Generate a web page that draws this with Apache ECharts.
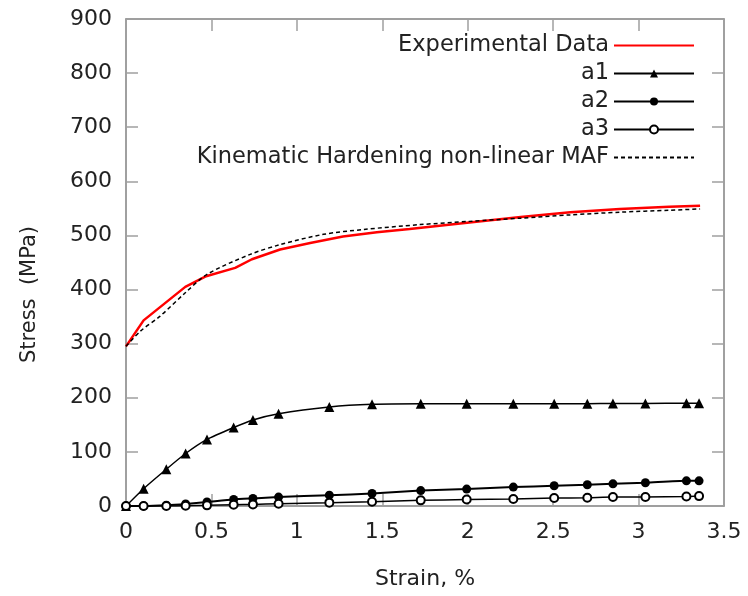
<!DOCTYPE html>
<html>
<head>
<meta charset="utf-8">
<script src="https://cdn.jsdelivr.net/npm/echarts@6/dist/echarts.min.js"></script>
<style>html,body{margin:0;padding:0;background:#fff;}#c{width:748px;height:596px;}</style>
</head>
<body>
<div id="c"></div>
<script>
// ---- data ----
var xTicks = [0, 0.5, 1, 1.5, 2, 2.5, 3, 3.5];
var yTicks = [0, 100, 200, 300, 400, 500, 600, 700, 800, 900];

var strainExp = [0, 0.103, 0.347, 0.464, 0.639, 0.737, 0.902, 1.078, 1.27, 1.468, 1.66, 2.01, 2.31, 2.60, 2.89, 3.18, 3.36];
var stressExp = [295, 343, 405, 424, 440, 456, 474, 486, 498, 506, 512, 524, 534, 543, 549, 553, 555];

var strainKH = [0, 0.084, 0.2, 0.347, 0.474, 0.727, 0.902, 1.156, 1.39, 1.72, 2.01, 2.31, 2.60, 2.89, 3.18, 3.36];
var stressKH = [295, 323, 351, 394, 428, 465, 483, 502, 511, 520, 526, 532, 538, 543, 546.5, 549];

var strainA = [0, 0.103, 0.236, 0.349, 0.474, 0.63, 0.743, 0.893, 1.19, 1.44, 1.725, 1.994, 2.267, 2.506, 2.70, 2.85, 3.04, 3.28, 3.354];
var a1 = [0, 32, 68, 97, 123, 145, 159, 170.5, 183, 188, 189, 189, 189, 189, 189, 189.5, 189.5, 190, 190];
var a2 = [0, 0, 1.3, 3.7, 7.3, 12, 14, 16.5, 20, 23, 28.5, 31.2, 35, 37.4, 39.3, 41, 43, 46.5, 46.5];
var a3 = [0, 0, 0, 0.5, 1.2, 2.4, 3, 4.3, 6.2, 8, 10.4, 12, 13, 14.7, 15.3, 16.5, 16.5, 17.5, 18.3];

var names = ['Experimental Data', 'a1', 'a2', 'a3', 'Kinematic Hardening non-linear MAF'];

function pairs(xs, ys) { return xs.map(function (x, i) { return [x, ys[i]]; }); }

var FONT = 'DejaVu Sans';
var axisGray = '#808080';
var tickGray = '#a0a0a0';
var hidden = { color: 'rgba(0,0,0,0)', borderColor: 'rgba(0,0,0,0)', borderWidth: 0, opacity: 0 };

function xAx(pos, show) {
  return {
    type: 'value', position: pos, min: xTicks[0], max: xTicks[xTicks.length - 1], interval: xTicks[1] - xTicks[0],
    name: show ? 'Strain, %' : '', nameLocation: 'middle', nameGap: 62,
    nameTextStyle: { fontFamily: FONT, fontSize: 22, color: '#222' },
    axisLine: { show: true, onZero: false, lineStyle: { color: axisGray, width: 1.5 } },
    axisTick: { show: true, inside: true, length: 12, lineStyle: { color: tickGray, width: 1.5 } },
    axisLabel: { show: show, margin: 15, fontFamily: FONT, fontSize: 22, color: '#222' },
    splitLine: { show: false }
  };
}
function yAx(pos, show) {
  return {
    type: 'value', position: pos, min: yTicks[0], max: yTicks[yTicks.length - 1], interval: yTicks[1] - yTicks[0],
    name: show ? 'Stress  (MPa)' : '', nameLocation: 'middle', nameGap: 86, nameRotate: 90,
    nameTextStyle: { fontFamily: FONT, fontSize: 21, color: '#222', padding: [0, 64, 0, 0] },
    axisLine: { show: true, onZero: false, lineStyle: { color: axisGray, width: 1.5 } },
    axisTick: { show: true, inside: true, length: 12, lineStyle: { color: tickGray, width: 1.5 } },
    axisLabel: { show: show, margin: 14, fontFamily: FONT, fontSize: 22, color: '#222' },
    splitLine: { show: false }
  };
}

var chart = echarts.init(document.getElementById('c'), null, { renderer: 'canvas' });
chart.setOption({
  animation: false,
  backgroundColor: '#fff',
  grid: { left: 126, right: 24, top: 19, bottom: 90, containLabel: false },
  xAxis: [xAx('bottom', true), xAx('top', false)],
  yAxis: [yAx('left', true), yAx('right', false)],
  legend: {
    orient: 'vertical', align: 'right', right: 48, top: 29,
    itemWidth: 80, itemHeight: 10, itemGap: 5,
    textStyle: { fontFamily: FONT, fontSize: 22.5, color: '#222' },
    data: [
      { name: names[0], itemStyle: hidden },
      { name: names[1] },
      { name: names[2] },
      { name: names[3] },
      { name: names[4], itemStyle: hidden }
    ]
  },
  series: [
    {
      name: names[0], type: 'line', data: pairs(strainExp, stressExp),
      showSymbol: false, symbol: 'none', color: '#ff0000',
      lineStyle: { color: '#ff0000', width: 2.5 }, z: 3
    },
    {
      name: names[1], type: 'line', data: pairs(strainA, a1), smooth: 0.2,
      symbol: 'triangle', symbolSize: 10, color: '#000',
      itemStyle: { color: '#000' }, lineStyle: { color: '#000', width: 1.5 }
    },
    {
      name: names[2], type: 'line', data: pairs(strainA, a2), smooth: 0.2,
      symbol: 'circle', symbolSize: 9, color: '#000',
      itemStyle: { color: '#000' }, lineStyle: { color: '#000', width: 2 }
    },
    {
      name: names[3], type: 'line', data: pairs(strainA, a3), smooth: 0.2,
      symbol: 'emptyCircle', symbolSize: 8, color: '#000',
      itemStyle: { color: '#000', borderWidth: 1.5 }, lineStyle: { color: '#000', width: 1.5 }
    },
    {
      name: names[4], type: 'line', data: pairs(strainKH, stressKH), smooth: 0.3,
      showSymbol: false, symbol: 'none', color: '#000',
      lineStyle: { color: '#000', width: 1.5, type: [4, 3] }, z: 4
    }
  ]
});
</script>
</body>
</html>
